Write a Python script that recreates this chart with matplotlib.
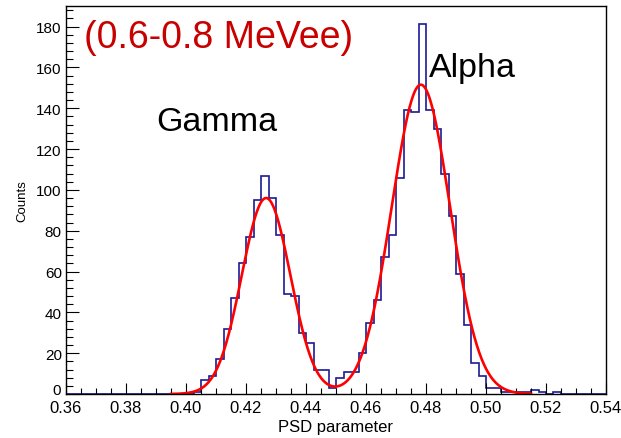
"""PSD parameter histogram (0.6-0.8 MeVee) with a double-Gaussian fit."""
import numpy as np
import matplotlib
matplotlib.use('Agg')
import matplotlib.pyplot as plt
from matplotlib.ticker import MultipleLocator, FormatStrFormatter

plt.rcParams['font.family'] = ['Liberation Sans', 'DejaVu Sans']

# histogram: 72 bins of 0.0025 from 0.36 to 0.54
bin_lo = 0.36
bin_hi = 0.54
n_bins = 72
counts = [
    0, 0, 0, 0, 0, 0, 0, 0, 0, 0, 0, 0, 0, 0, 0, 0,      # 0.360 - 0.3975
    0, 1, 7, 9, 17, 32, 47, 64, 77, 95, 107, 96,         # 0.400 - 0.4275
    78, 49, 48, 30, 25, 12, 12, 3, 8, 11, 11, 20,        # 0.430 - 0.4575
    35, 46, 67, 78, 106, 139, 138, 181, 139, 130, 108, 87,  # 0.460 - 0.4875
    59, 34, 15, 9, 3, 3, 1, 1, 1, 1, 2, 1,               # 0.490 - 0.5175
    0, 1, 0, 0, 0, 0, 0, 0,                              # 0.520 - 0.5375
]

# fit: gaus(gamma) + gaus(alpha)
fit_amp = [96.0, 151.5]
fit_mean = [0.4267, 0.4783]
fit_sigma = [0.0081, 0.0097]
fit_range = (0.395, 0.515)

peak_labels = ['Gamma', 'Alpha']
energy_label = '(0.6-0.8 MeVee)'


def px(x, y):
    """pixel position in the 621x439 canvas -> figure fraction"""
    return x / 621.0, 1.0 - y / 439.0


def main():
    fig = plt.figure(figsize=(6.21, 4.39), dpi=100)
    fig.patch.set_facecolor('white')
    left, bottom = px(66, 395)
    right, top = px(606, 7)
    ax = fig.add_axes([left, bottom, right - left, top - bottom])

    edges = np.linspace(bin_lo, bin_hi, n_bins + 1)
    ax.stairs(counts, edges, color='#1a1a96', linewidth=1.2)

    xf = np.linspace(fit_range[0], fit_range[1], 600)
    yf = np.zeros_like(xf)
    for a, m, s in zip(fit_amp, fit_mean, fit_sigma):
        yf += a * np.exp(-0.5 * ((xf - m) / s) ** 2)
    ax.plot(xf, yf, color='#ff0000', linewidth=1.9)

    ax.set_xlim(bin_lo, bin_hi)
    ax.set_ylim(0, 1.05 * max(counts))

    ax.xaxis.set_major_locator(MultipleLocator(0.02))
    ax.xaxis.set_minor_locator(MultipleLocator(0.005))
    ax.xaxis.set_major_formatter(FormatStrFormatter('%.2f'))
    ax.yaxis.set_major_locator(MultipleLocator(20))
    ax.yaxis.set_minor_locator(MultipleLocator(4))

    ax.tick_params(axis='x', which='major', direction='in', length=8, width=0.8,
                   labelsize=12, pad=4.5)
    ax.tick_params(axis='x', which='minor', direction='in', length=4.1, width=0.8)
    ax.tick_params(axis='y', which='major', direction='in', length=9, width=0.8,
                   labelsize=11, pad=3)
    ax.tick_params(axis='y', which='minor', direction='in', length=4.7, width=0.8)
    for sp in ax.spines.values():
        sp.set_linewidth(1.0)

    # ROOT pushes the "0" label of the y axis up to clear the x labels
    yticks = np.arange(0, 181, 20)
    ax.set_yticks(yticks)
    ax.set_yticklabels([''] + [str(v) for v in yticks[1:]])
    fig.text(*px(61, 391), '0', fontsize=11, ha='right', va='center')

    fig.text(*px(336, 428), 'PSD parameter', fontsize=12, ha='center', va='center')
    fig.text(*px(22, 201), 'Counts', fontsize=9.5, ha='center', va='center',
             rotation=90)

    fig.text(*px(156, 131), peak_labels[0], fontsize=24.5, ha='left',
             va='baseline', color='black')
    fig.text(*px(429, 77), peak_labels[1], fontsize=24.5, ha='left',
             va='baseline', color='black')
    fig.text(*px(84, 48), energy_label, fontsize=27, ha='left',
             va='baseline', color='#c80000')

    fig.savefig('out.png', dpi=100, facecolor='white')


if __name__ == '__main__':
    main()
